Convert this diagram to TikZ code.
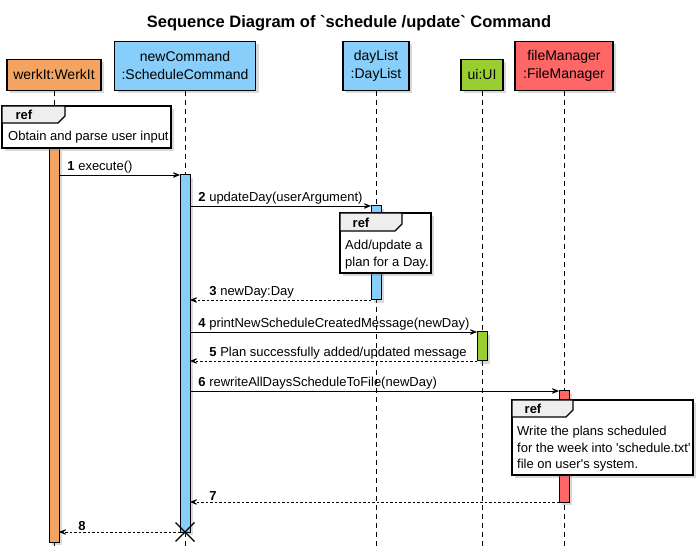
\documentclass[tikz,border=0pt]{standalone}
\usepackage{fontspec}
\newfontfamily\umlfont{Liberation Sans}
\usepackage{tikz}
\usetikzlibrary{arrows.meta, shadows, positioning}

\definecolor{werkorange}{HTML}{F4A460}
\definecolor{cmdblue}{HTML}{87CEFA}
\definecolor{uigreen}{HTML}{9ACD32}
\definecolor{filered}{HTML}{FF6666}
\definecolor{tabgray}{HTML}{EEEEEE}

\tikzset{
  softshadow/.style={drop shadow={shadow xshift=3pt, shadow yshift=-3pt, opacity=0.3}},
  actor/.style={draw, line width=1.3pt, softshadow, align=center, inner sep=0pt,
    anchor=south, font=\fontsize{14}{18}\selectfont},
  bar/.style={draw, line width=1pt, softshadow, minimum width=10pt, inner sep=0pt,
    outer sep=0pt, anchor=north},
  lifeline/.style={line width=0.9pt, dash pattern=on 5pt off 4pt},
  call/.style={line width=0.9pt, -{Stealth[length=11pt, width=9pt, inset=7pt]}},
  reply/.style={call, dash pattern=on 2.5pt off 2pt},
  msglbl/.style={font=\fontsize{13}{15}\selectfont, anchor=south west, inner sep=1pt},
  refbox/.style={draw, fill=white, line width=1.3pt, softshadow, anchor=north west,
    inner sep=0pt, outer sep=0pt},
  reftab/.style={draw, fill=tabgray, line width=1.3pt},
  reflbl/.style={font=\bfseries\fontsize{13}{15}\selectfont, inner sep=0pt},
  reftext/.style={font=\fontsize{13}{16.5}\selectfont, align=left, anchor=north west,
    inner sep=0pt},
}

\begin{document}
\umlfont
\begin{tikzpicture}[x=1pt, y=-1pt]
  \useasboundingbox (0,0) rectangle (697,556);
  % Title
  \node[font=\bfseries\fontsize{16.5}{20}\selectfont] (title) at (349,23)
    {Sequence Diagram of `schedule /update` Command};

  % Participants
  \node[actor, fill=werkorange, minimum width=94pt, minimum height=31pt] (werkit) at (54,91) {werkIt:WerkIt};
  \node[actor, fill=cmdblue, minimum width=141pt, minimum height=49pt] (cmd) at (185,91) {newCommand\\:ScheduleCommand};
  \node[actor, fill=cmdblue, minimum width=66pt, minimum height=49pt] (daylist) at (376,91) {dayList\\:DayList};
  \node[actor, fill=uigreen, minimum width=42pt, minimum height=31pt] (ui) at (482,91) {ui:UI};
  \node[actor, fill=filered, minimum width=98pt, minimum height=49pt] (filemgr) at (564,91) {fileManager\\:FileManager};

  % Lifelines
  \coordinate (bottom) at (0,550);
  \foreach \p in {werkit, cmd, daylist, ui, filemgr}
    \draw[lifeline] (\p.south) -- (\p.south |- bottom);

  % Activation bars
  \node[bar, fill=werkorange, minimum height=394pt] (actW) at (54,148) {};
  \node[bar, fill=cmdblue, minimum height=357pt] (actC) at (185,175) {};
  \node[bar, fill=cmdblue, minimum height=94pt] (actD) at (376,206) {};
  \node[bar, fill=uigreen, minimum height=29pt] (actU) at (482,332) {};
  \node[bar, fill=filered, minimum height=111pt] (actF) at (564,391) {};

  % Message rows
  \foreach \n/\y in {1/175, 2/206, 3/300, 4/332, 5/361, 6/391, 7/502, 8/532}
    \coordinate (m\n) at (0,\y);

  % Messages
  \draw[call] (actW.east |- m1) -- (actC.west |- m1)
    node[at start, msglbl, xshift=7pt] {\textbf{1} execute()};
  \draw[call] (actC.east |- m2) -- (actD.west |- m2)
    node[at start, msglbl, xshift=7pt] {\textbf{2} updateDay(userArgument)};
  \draw[reply] (actD.west |- m3) -- (actC.east |- m3)
    node[at end, msglbl, xshift=18pt] {\textbf{3} newDay:Day};
  \draw[call] (actC.east |- m4) -- (actU.west |- m4)
    node[at start, msglbl, xshift=7pt] {\textbf{4} printNewScheduleCreatedMessage(newDay)};
  \draw[reply] (actU.west |- m5) -- (actC.east |- m5)
    node[at end, msglbl, xshift=18pt] {\textbf{5} Plan successfully added/updated message};
  \draw[call] (actC.east |- m6) -- (actF.west |- m6)
    node[at start, msglbl, xshift=7pt] {\textbf{6} rewriteAllDaysScheduleToFile(newDay)};
  \draw[reply] (actF.west |- m7) -- (actC.east |- m7)
    node[at end, msglbl, xshift=18pt] {\textbf{7}};
  \draw[reply] (actC.west |- m8) -- (actW.east |- m8)
    node[at end, msglbl, xshift=18pt] {\textbf{8}};

  % Destroy
  \coordinate (destroy) at (185,532);
  \draw[line width=1.3pt] ([shift={(-9.5,-9.5)}]destroy) -- ([shift={(9.5,9.5)}]destroy);
  \draw[line width=1.3pt] ([shift={(-9.5,9.5)}]destroy) -- ([shift={(9.5,-9.5)}]destroy);

  % Ref frames
  \node[refbox, minimum width=169pt, minimum height=42pt] (ref1) at (2,106) {};
  \draw[reftab] (ref1.north west) -- ++(63,0) -- ++(0,10) -- ++(-7,7) -- ++(-56,0) -- cycle;
  \node[reflbl] at ([shift={(22,9)}]ref1.north west) {ref};
  \node[reftext] at ([shift={(6,25)}]ref1.north west) {Obtain and parse user input};

  \node[refbox, minimum width=91pt, minimum height=60pt] (ref2) at (340,213) {};
  \draw[reftab] (ref2.north west) -- ++(62,0) -- ++(0,11) -- ++(-7,7) -- ++(-55,0) -- cycle;
  \node[reflbl] at ([shift={(21,10)}]ref2.north west) {ref};
  \node[reftext] at ([shift={(5,27)}]ref2.north west) {Add/update a\\plan for a Day.};

  \node[refbox, minimum width=181pt, minimum height=75pt] (ref3) at (512,400) {};
  \draw[reftab] (ref3.north west) -- ++(61,0) -- ++(0,10) -- ++(-7,7) -- ++(-54,0) -- cycle;
  \node[reflbl] at ([shift={(21,9)}]ref3.north west) {ref};
  \node[reftext] at ([shift={(5,26)}]ref3.north west)
    {Write the plans scheduled\\for the week into 'schedule.txt'\\file on user's system.};
\end{tikzpicture}
\end{document}
